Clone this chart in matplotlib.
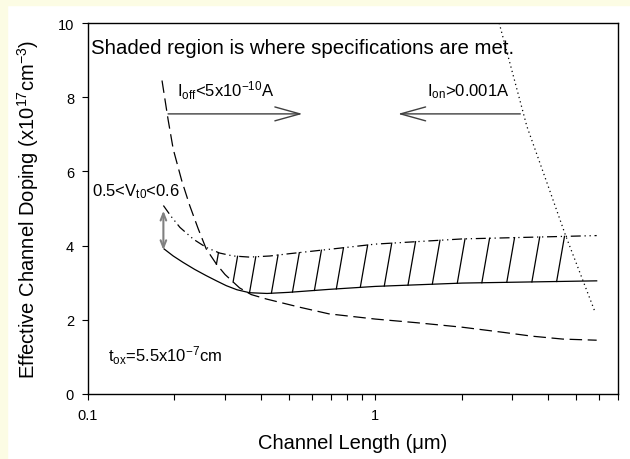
import matplotlib
matplotlib.use("Agg")
import matplotlib.pyplot as plt
from matplotlib.patches import Rectangle
from matplotlib.ticker import LogLocator, NullFormatter, FixedLocator, FixedFormatter
import numpy as np

plt.rcParams["font.family"] = ["Liberation Sans", "DejaVu Sans"]
plt.rcParams["mathtext.default"] = "regular"

# curves (channel length in um, doping in 1e17 cm^-3)
ioff_x = [0.181, 0.190, 0.198, 0.212, 0.226, 0.242, 0.258, 0.280, 0.300, 0.337, 0.370,
          0.418, 0.545, 0.69, 1.0, 1.4, 2.01, 2.8, 3.5, 4.5, 5.9]
ioff_y = [8.45, 7.40, 6.60, 5.75, 5.08, 4.45, 3.91, 3.50, 3.22, 2.86, 2.68,
          2.56, 2.34, 2.16, 2.02, 1.92, 1.80, 1.66, 1.56, 1.48, 1.45]

vt_lo_x = [0.184, 0.198, 0.214, 0.235, 0.258, 0.280, 0.303, 0.330, 0.365, 0.42,
           0.50, 0.69, 1.0, 2.01, 5.9]
vt_lo_y = [3.91, 3.72, 3.55, 3.36, 3.19, 3.05, 2.92, 2.81, 2.73, 2.71,
           2.74, 2.82, 2.90, 2.99, 3.05]

vt_hi_x = [0.183, 0.195, 0.209, 0.233, 0.258, 0.287, 0.320, 0.365, 0.43, 0.50,
           0.75, 1.0, 2.01, 5.9]
vt_hi_y = [5.08, 4.78, 4.49, 4.17, 3.95, 3.80, 3.72, 3.69, 3.72, 3.78,
           3.93, 4.04, 4.18, 4.27]

ion_x = [2.70, 3.37, 4.0, 4.59, 5.83]
ion_y = [10.0, 7.22, 5.6, 4.29, 2.20]

# x positions where the shading strokes meet the lower boundary
hatch_x = [0.280, 0.320, 0.365, 0.435, 0.515, 0.614, 0.732, 0.887, 1.075,
           1.30, 1.58, 1.93, 2.35, 2.87, 3.51, 4.28]

fig = plt.figure(figsize=(6.3, 4.6), dpi=100)
fig.patch.set_facecolor("white")
cream = "#fcfce4"
fig.patches.append(Rectangle((0, 0), 7 / 630, 1, transform=fig.transFigure, color=cream, zorder=-1))
fig.patches.append(Rectangle((0, 1 - 6 / 460), 1, 6 / 460, transform=fig.transFigure, color=cream, zorder=-1))

ax = fig.add_axes([88 / 630, 65 / 460, 530 / 630, 371 / 460])
ax.set_xscale("log")
ax.set_xlim(0.1, 7)
ax.set_ylim(0, 10)

ax.plot(ioff_x, ioff_y, color="black", lw=0.9, dashes=(10, 4.5))
ax.plot(vt_lo_x, vt_lo_y, color="black", lw=0.9)
ax.plot(vt_hi_x, vt_hi_y, color="black", lw=0.9, dashes=(8, 3, 1, 3, 1, 3))
ax.plot(ion_x, ion_y, color="black", lw=0.9, dashes=(1, 2.6))

# shading strokes between the lower bound and the upper Vt0 curve
lx_lo, lx_hi, lx_off = np.log10(vt_lo_x), np.log10(vt_hi_x), np.log10(ioff_x)
slant = 0.0225
for hx in hatch_x:
    lb = np.log10(hx)
    yb = max(np.interp(lb, lx_lo, vt_lo_y), np.interp(lb, lx_off, ioff_y))
    yt = np.interp(lb, lx_hi, vt_hi_y)
    lt = lb + slant * (yt - yb)
    yt = np.interp(lt, lx_hi, vt_hi_y)
    lt = lb + slant * (yt - yb)
    ax.plot([hx, 10 ** lt], [yb, yt], color="black", lw=0.9)

arrow_kw = dict(arrowstyle="->,head_length=18,head_width=5", color="#404040",
                lw=1.0, shrinkA=0, shrinkB=0, mutation_scale=1)
ax.annotate("", xy=(0.558, 7.55), xytext=(0.19, 7.55), arrowprops=arrow_kw)
ax.annotate("", xy=(1.20, 7.55), xytext=(3.2, 7.55), arrowprops=arrow_kw)
ax.annotate("", xy=(0.183, 3.88), xytext=(0.183, 4.94),
            arrowprops=dict(arrowstyle="<->,head_length=5,head_width=2", color="#808080",
                            lw=1.5, shrinkA=0, shrinkB=0, mutation_scale=1))

ax.text(0.1024, 9.2, "Shaded region is where specifications are met.", fontsize=14.7, va="baseline")
ax.text(0.204, 8.04, "I$_{off}$<5x10$^{-10}$A", fontsize=12, va="baseline")
ax.text(1.515, 8.04, "I$_{on}$>0.001A", fontsize=12, va="baseline")
ax.text(0.1032, 5.35, "0.5<V$_{t0}$<0.6", fontsize=12, va="baseline")
ax.text(0.1173, 0.90, "t$_{ox}$=5.5x10$^{-7}$cm", fontsize=12, va="baseline")

ax.set_xlabel("Channel Length (\u03bcm)", fontsize=14.5, labelpad=8)
ax.set_ylabel("Effective Channel Doping (x10$^{17}$cm$^{-3}$)", fontsize=14.5, labelpad=12)

ax.xaxis.set_major_locator(FixedLocator([0.1, 1]))
ax.xaxis.set_major_formatter(FixedFormatter(["0.1", "1"]))
ax.xaxis.set_minor_locator(LogLocator(base=10, subs=np.arange(2, 10)))
ax.xaxis.set_minor_formatter(NullFormatter())
ax.set_yticks([0, 2, 4, 6, 8, 10])
ax.tick_params(which="both", direction="out", length=4, width=0.8, labelsize=10.5, pad=6,
               top=False, right=False)

for sp in ax.spines.values():
    sp.set_linewidth(1.0)

fig.savefig("out.png", dpi=100, facecolor=fig.get_facecolor())
